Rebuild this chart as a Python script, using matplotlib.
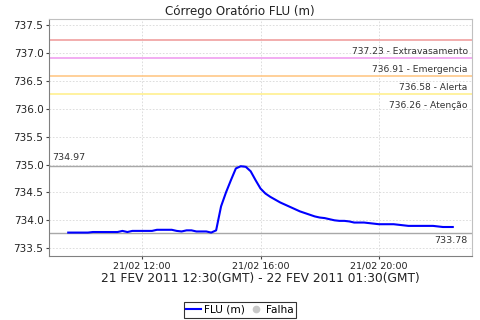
import matplotlib
matplotlib.use("Agg")
import matplotlib.pyplot as plt
import matplotlib.dates as mdates
from matplotlib.lines import Line2D
from datetime import datetime, timedelta

# Data: FLU level (m), every 10 minutes from 21/02 09:30 to 22:30 (local)
start = datetime(2011, 2, 21, 9, 30)
levels = [
    733.78, 733.78, 733.78, 733.78, 733.78, 733.79, 733.79, 733.79, 733.79, 733.79,
    733.79, 733.81, 733.79, 733.81, 733.81, 733.81, 733.81, 733.81, 733.83, 733.83,
    733.83, 733.83, 733.81, 733.80, 733.82, 733.82, 733.80, 733.80, 733.80, 733.78,
    733.82, 734.25, 734.50, 734.72, 734.93, 734.97, 734.96, 734.88, 734.72, 734.57,
    734.48, 734.42, 734.37, 734.32, 734.28, 734.24, 734.20, 734.16, 734.13, 734.10,
    734.07, 734.05, 734.04, 734.02, 734.00, 733.99, 733.99, 733.98, 733.96, 733.96,
    733.96, 733.95, 733.94, 733.93, 733.93, 733.93, 733.93, 733.92, 733.91, 733.90,
    733.90, 733.90, 733.90, 733.90, 733.90, 733.89, 733.88, 733.88, 733.88,
]
times = [start + timedelta(minutes=10 * i) for i in range(len(levels))]

# Threshold levels
thr_values = [737.23, 736.91, 736.58, 736.26]
thr_names = ["Extravasamento", "Emergencia", "Alerta", "Atenção"]
thr_colors = ["#F0A0A0", "#F0A0F0", "#FFC888", "#FFF090"]

x_ticks = [datetime(2011, 2, 21, 12), datetime(2011, 2, 21, 16), datetime(2011, 2, 21, 20)]
y_ticks = [733.5, 734.0, 734.5, 735.0, 735.5, 736.0, 736.5, 737.0, 737.5]

plt.rcParams["font.family"] = ["DejaVu Sans"]
fig = plt.figure(figsize=(4.8, 3.2), dpi=100)
ax = fig.add_axes([49 / 480, 64 / 320, 423 / 480, 237 / 320])

ax.grid(True, linestyle=(0, (2, 2)), linewidth=0.6, color="#D8D8D8")
ax.set_axisbelow(True)

# Threshold lines and labels
for v, name, c in zip(thr_values, thr_names, thr_colors):
    ax.axhline(v, color=c, lw=1.2, zorder=2)
    ax.annotate(f"{v:.2f} - {name}", xy=(1, v), xycoords=("axes fraction", "data"),
                xytext=(-3, -8), textcoords="offset points", ha="right", va="center",
                fontsize=6.6, color="#333333")

# Max / min markers
vmax = max(levels)
vmin = min(levels)
ax.axhline(vmax, color="#A8A8A8", lw=1, zorder=2)
ax.axhline(vmin, color="#A8A8A8", lw=1, zorder=2)
ax.annotate(f"{vmax:.2f}", xy=(0, vmax), xycoords=("axes fraction", "data"),
            xytext=(2, 6), textcoords="offset points", ha="left", va="center",
            fontsize=6.8, color="#333333")
ax.annotate(f"{vmin:.2f}", xy=(1, vmin), xycoords=("axes fraction", "data"),
            xytext=(-3, -6), textcoords="offset points", ha="right", va="center",
            fontsize=6.8, color="#333333")

ax.plot(times, levels, color="#0000FF", lw=1.5, zorder=3)

ax.margins(x=0.05)
ax.set_ylim(733.36, 737.61)
ax.set_yticks(y_ticks)
ax.set_yticklabels([f"{v:.1f}" for v in y_ticks])
ax.set_xticks(x_ticks)
ax.xaxis.set_major_formatter(mdates.DateFormatter("%d/%m %H:%M"))

ax.tick_params(axis="y", labelsize=7.5, colors="#444444", length=2, pad=2)
ax.tick_params(axis="x", labelsize=6.8, colors="#444444", length=2, pad=2)
for lbl in ax.get_xticklabels() + ax.get_yticklabels():
    lbl.set_color("#222222")

for s in ["left", "bottom"]:
    ax.spines[s].set_color("#808080")
for s in ["top", "right"]:
    ax.spines[s].set_color("#C0C0C0")

ax.set_title("Córrego Oratório FLU (m)", fontsize=8.6, color="#222222", pad=3, x=0.45)
ax.set_xlabel("21 FEV 2011 12:30(GMT) - 22 FEV 2011 01:30(GMT)", fontsize=8.8,
              color="#222222", labelpad=1)

handles = [
    Line2D([], [], color="#0000FF", lw=1.5),
    Line2D([], [], marker="o", ls="none", color="#C8C8C8", markersize=4.5),
]
leg = fig.legend(handles, ["FLU (m)", "Falha"], loc="center", bbox_to_anchor=(0.5, 10 / 320),
                 ncol=2, fontsize=7.6, frameon=True, fancybox=False, handlelength=1.4,
                 handletextpad=0.3, columnspacing=0.3, borderpad=0.25, borderaxespad=0)
leg.get_frame().set_edgecolor("black")
leg.get_frame().set_linewidth(0.8)

fig.savefig("out.png", dpi=100)
